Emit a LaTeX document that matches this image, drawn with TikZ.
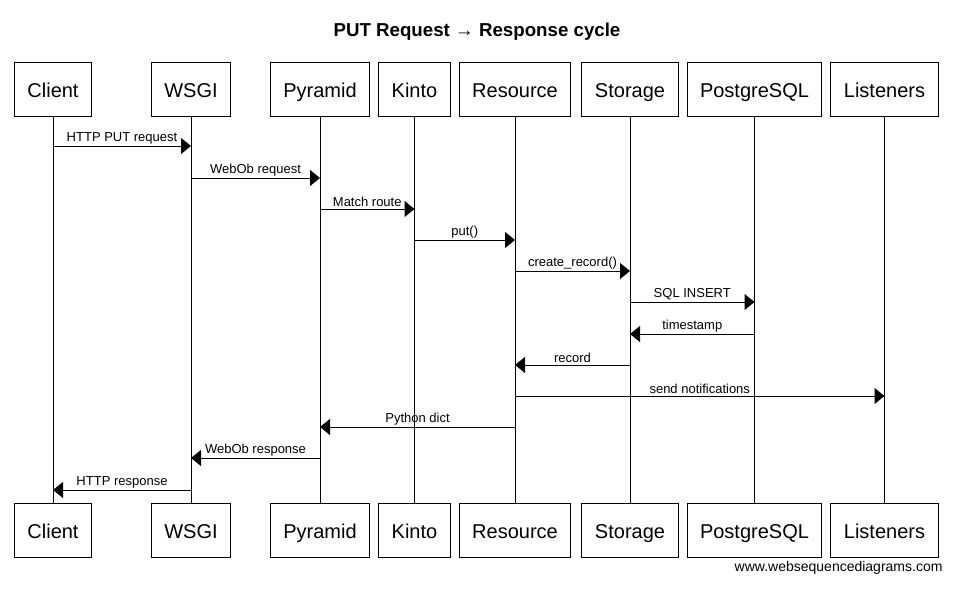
\documentclass[tikz,border=0pt]{standalone}
\usepackage{fontspec}
\setmainfont{Liberation Sans}
\usetikzlibrary{arrows.meta}

\begin{document}
\begin{tikzpicture}[x=1pt,y=-1pt,line width=1pt]
			\tikzstyle{actor}=[draw,rectangle,text centered,inner xsep=13pt,inner ysep=0pt,minimum height=54pt,text height=18pt,text depth=2pt,font=\fontsize{20}{24}\selectfont]
			\tikzstyle{msg}=[-{Triangle[length=10pt,width=16pt]}]
			\tikzstyle{lbl}=[above,inner sep=1.5pt,font=\fontsize{13}{15}\selectfont]

			\useasboundingbox (0,0) rectangle (961,589);

			\node (title) at (477,32) {\fontsize{18.7}{22}\selectfont\bfseries PUT Request → Response cycle};

			% participants, top row
			\node[actor] (client) at (53,89) {Client};
			\node[actor] (wsgi) at (191,89) {WSGI};
			\node[actor] (pyramid) at (320,89) {Pyramid};
			\node[actor] (kinto) at (414.5,89) {Kinto};
			\node[actor] (resource) at (515,89) {Resource};
			\node[actor] (storage) at (630,89) {Storage};
			\node[actor] (postgres) at (754.5,89) {PostgreSQL};
			\node[actor] (listeners) at (884.5,89) {Listeners};

			% participants, bottom row
			\node[actor] (clientB) at (53,530) {Client};
			\node[actor] (wsgiB) at (191,530) {WSGI};
			\node[actor] (pyramidB) at (320,530) {Pyramid};
			\node[actor] (kintoB) at (414.5,530) {Kinto};
			\node[actor] (resourceB) at (515,530) {Resource};
			\node[actor] (storageB) at (630,530) {Storage};
			\node[actor] (postgresB) at (754.5,530) {PostgreSQL};
			\node[actor] (listenersB) at (884.5,530) {Listeners};

			% lifelines
			\draw (client.south) -- (clientB.north);
			\draw (wsgi.south) -- (wsgiB.north);
			\draw (pyramid.south) -- (pyramidB.north);
			\draw (kinto.south) -- (kintoB.north);
			\draw (resource.south) -- (resourceB.north);
			\draw (storage.south) -- (storageB.north);
			\draw (postgres.south) -- (postgresB.north);
			\draw (listeners.south) -- (listenersB.north);

			% messages
			\draw[msg] (client |- 0,146) -- (wsgi |- 0,146) node[midway,lbl] {HTTP PUT request};
			\draw[msg] (wsgi |- 0,178) -- (pyramid |- 0,178) node[midway,lbl] {WebOb request};
			\draw[msg] (pyramid |- 0,209) -- (kinto |- 0,209) node[midway,lbl] {Match route};
			\draw[msg] (kinto |- 0,240) -- (resource |- 0,240) node[midway,lbl] {put()};
			\draw[msg] (resource |- 0,271) -- (storage |- 0,271) node[midway,lbl] {create\_record()};
			\draw[msg] (storage |- 0,302) -- (postgres |- 0,302) node[midway,lbl] {SQL INSERT};
			\draw[msg] (postgres |- 0,334) -- (storage |- 0,334) node[midway,lbl] {timestamp};
			\draw[msg] (storage |- 0,365) -- (resource |- 0,365) node[midway,lbl] {record};
			\draw[msg] (resource |- 0,396) -- (listeners |- 0,396) node[midway,lbl] {send notifications};
			\draw[msg] (resource |- 0,427) -- (pyramid |- 0,427) node[midway,lbl] {Python dict};
			\draw[msg] (pyramid |- 0,458) -- (wsgi |- 0,458) node[midway,lbl] {WebOb response};
			\draw[msg] (wsgi |- 0,490) -- (client |- 0,490) node[midway,lbl] {HTTP response};

			\node[anchor=base east,inner sep=0pt,font=\fontsize{14}{16}\selectfont] (credit) at (943,571) {www.websequencediagrams.com};

		\end{tikzpicture}
\end{document}
